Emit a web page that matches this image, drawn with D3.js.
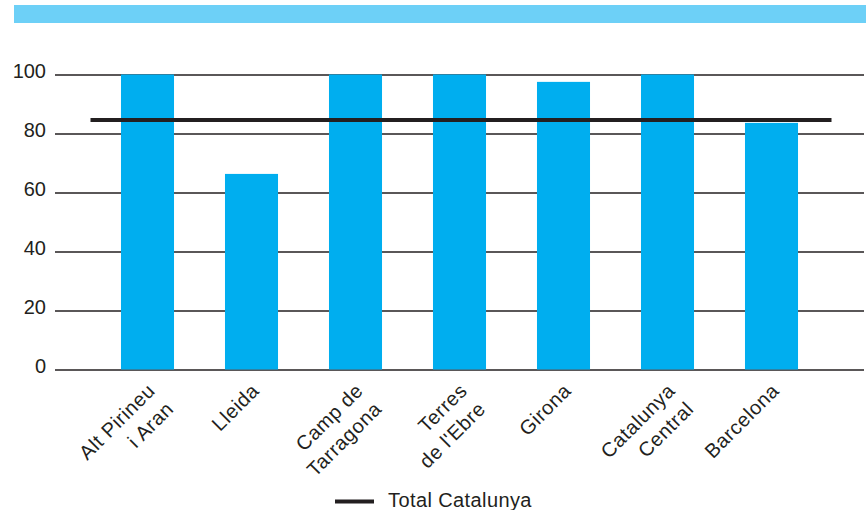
<!DOCTYPE html>
<html>
<head>
<meta charset="utf-8">
<script src="https://cdn.jsdelivr.net/npm/d3@7"></script>
<style>
  body { margin: 0; background: #fff; }
  text { font-family: "Liberation Sans", Arial, sans-serif; fill: #231f20; }
</style>
</head>
<body>
<svg id="chart" width="866" height="510"></svg>
<script>
// categories (two-line labels split with |)
var regions = ["Alt Pirineu|i Aran", "Lleida", "Camp de|Tarragona", "Terres|de l'Ebre", "Girona", "Catalunya|Central", "Barcelona"]
// bar values
var values = [100, 66.3, 100, 100, 97.5, 100, 83.6]
// reference line
var totalCatalunya = 84.6
var yTicks = [0, 20, 40, 60, 80, 100]

var svg = d3.select("#chart")

// top banner
svg.append("rect")
    .attr("x", 14).attr("y", 5)
    .attr("width", 852).attr("height", 18)
    .attr("fill", "#6dd0f7")

var x = d3.scaleBand()
    .domain(regions)
    .range([95.5, 823.5])
    .paddingInner(0.49)
    .paddingOuter(0.245)

var y = d3.scaleLinear()
    .domain([0, 100])
    .range([369.5, 74.5])

// gridlines + tick labels
var yAxis = d3.axisLeft(y)
    .tickValues(yTicks)
    .tickSize(-(864 - 55))
    .tickPadding(9)

svg.append("g")
    .attr("transform", "translate(55,0)")
    .call(yAxis)
    .call(g => g.select(".domain").remove())
    .call(g => g.selectAll(".tick line").attr("stroke", "#231f20").attr("stroke-width", 1.3))
    .call(g => g.selectAll(".tick text")
        .attr("font-size", 20)
        .attr("dy", "0.17em")
        .attr("fill", "#231f20")
        .style("font-family", "Liberation Sans, Arial, sans-serif"))

// bars
svg.append("g").selectAll("rect")
    .data(values)
    .join("rect")
    .attr("x", (d, i) => x(regions[i]))
    .attr("y", d => y(d))
    .attr("width", x.bandwidth())
    .attr("height", d => y(0) - y(d))
    .attr("fill", "#00aeef")

// total line
svg.append("line")
    .attr("x1", 90.5).attr("x2", 831.5)
    .attr("y1", y(totalCatalunya)).attr("y2", y(totalCatalunya))
    .attr("stroke", "#231f20")
    .attr("stroke-width", 4)

// category labels, rotated
var labels = svg.append("g").selectAll("text")
    .data(regions)
    .join("text")
    .attr("transform", d => "translate(" + (x(d) + x.bandwidth() / 2 - 1) + ",382) rotate(-45)")
    .attr("text-anchor", "end")
    .attr("font-size", 20)
    .attr("letter-spacing", 0.6)

labels.each(function (d) {
    var lines = d.split("|")
    var t = d3.select(this)
    lines.forEach((l, k) => {
        t.append("tspan")
            .attr("x", 0)
            .attr("dy", k === 0 ? "0.7em" : "1.3em")
            .text(l)
    })
})

// legend
svg.append("line")
    .attr("x1", 335).attr("x2", 374)
    .attr("y1", 501.5).attr("y2", 501.5)
    .attr("stroke", "#231f20")
    .attr("stroke-width", 4)

svg.append("text")
    .attr("x", 388).attr("y", 507)
    .attr("font-size", 20)
    .attr("letter-spacing", 0.4)
    .text("Total Catalunya")
</script>
</body>
</html>
